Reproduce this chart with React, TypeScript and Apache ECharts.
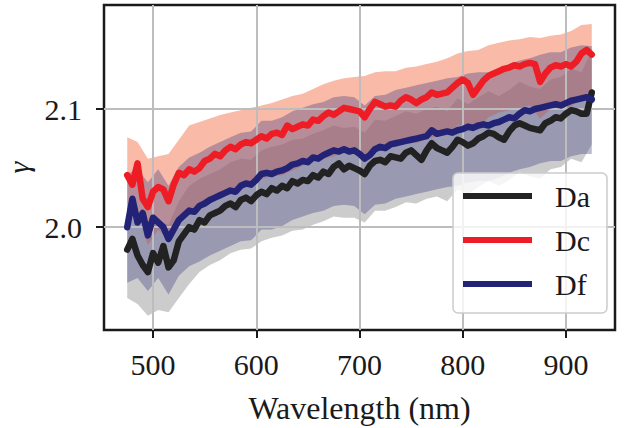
import React, { useEffect, useRef } from "react";
import * as echarts from "echarts";

const WL = [475, 480, 485, 490, 495, 500, 505, 510, 515, 520, 525, 530, 535, 540, 545, 550, 555, 560, 565, 570, 575, 580, 585, 590, 595, 600, 605, 610, 615, 620, 625, 630, 635, 640, 645, 650, 655, 660, 665, 670, 675, 680, 685, 690, 695, 700, 705, 710, 715, 720, 725, 730, 735, 740, 745, 750, 755, 760, 765, 770, 775, 780, 785, 790, 795, 800, 805, 810, 815, 820, 825, 830, 835, 840, 845, 850, 855, 860, 865, 870, 875, 880, 885, 890, 895, 900, 905, 910, 915, 920, 925];

const DA = [1.981, 1.990, 1.976, 1.968, 1.962, 1.978, 1.970, 1.984, 1.966, 1.972, 1.988, 1.994, 2.000, 1.998, 2.006, 2.004, 2.010, 2.012, 2.014, 2.018, 2.020, 2.017, 2.023, 2.025, 2.022, 2.027, 2.030, 2.028, 2.033, 2.031, 2.035, 2.033, 2.039, 2.037, 2.040, 2.039, 2.044, 2.042, 2.047, 2.045, 2.051, 2.054, 2.049, 2.052, 2.050, 2.048, 2.045, 2.052, 2.056, 2.057, 2.055, 2.060, 2.059, 2.058, 2.063, 2.065, 2.061, 2.057, 2.065, 2.071, 2.067, 2.065, 2.063, 2.068, 2.074, 2.072, 2.069, 2.071, 2.075, 2.077, 2.080, 2.079, 2.076, 2.074, 2.081, 2.086, 2.088, 2.086, 2.084, 2.083, 2.082, 2.088, 2.090, 2.093, 2.092, 2.096, 2.099, 2.098, 2.096, 2.096, 2.114];

const DC = [2.044, 2.036, 2.054, 2.024, 2.017, 2.030, 2.034, 2.032, 2.022, 2.036, 2.046, 2.044, 2.049, 2.047, 2.050, 2.056, 2.058, 2.062, 2.060, 2.065, 2.068, 2.066, 2.070, 2.072, 2.071, 2.074, 2.077, 2.075, 2.079, 2.080, 2.078, 2.086, 2.083, 2.085, 2.087, 2.086, 2.091, 2.090, 2.094, 2.097, 2.095, 2.098, 2.101, 2.100, 2.099, 2.098, 2.093, 2.100, 2.106, 2.104, 2.102, 2.103, 2.102, 2.107, 2.110, 2.108, 2.105, 2.108, 2.110, 2.114, 2.112, 2.113, 2.114, 2.118, 2.122, 2.125, 2.122, 2.112, 2.118, 2.124, 2.128, 2.130, 2.132, 2.134, 2.135, 2.137, 2.136, 2.138, 2.139, 2.138, 2.123, 2.130, 2.135, 2.137, 2.136, 2.138, 2.136, 2.140, 2.147, 2.150, 2.146];

const DF = [2.000, 2.024, 2.004, 2.012, 1.993, 2.008, 2.004, 2.000, 1.990, 1.998, 2.006, 2.010, 2.014, 2.013, 2.018, 2.020, 2.023, 2.025, 2.027, 2.029, 2.031, 2.030, 2.035, 2.037, 2.036, 2.040, 2.045, 2.046, 2.045, 2.047, 2.048, 2.050, 2.053, 2.054, 2.056, 2.055, 2.059, 2.058, 2.061, 2.063, 2.065, 2.064, 2.066, 2.064, 2.065, 2.062, 2.058, 2.061, 2.066, 2.068, 2.067, 2.070, 2.071, 2.072, 2.073, 2.074, 2.075, 2.076, 2.077, 2.082, 2.079, 2.080, 2.081, 2.080, 2.082, 2.083, 2.085, 2.084, 2.086, 2.087, 2.086, 2.088, 2.089, 2.091, 2.093, 2.092, 2.096, 2.099, 2.098, 2.100, 2.101, 2.102, 2.103, 2.104, 2.103, 2.105, 2.107, 2.108, 2.109, 2.110, 2.108];

const WL_BAND = [475, 485, 495, 505, 515, 525, 535, 545, 555, 565, 575, 585, 595, 605, 615, 625, 635, 645, 655, 665, 675, 685, 695, 705, 715, 725, 735, 745, 755, 765, 775, 785, 795, 805, 815, 825, 835, 845, 855, 865, 875, 885, 895, 905, 915, 925];

const DA_LO = [1.940, 1.935, 1.925, 1.930, 1.928, 1.940, 1.952, 1.962, 1.968, 1.972, 1.978, 1.981, 1.982, 1.988, 1.991, 1.993, 1.997, 1.998, 2.002, 2.005, 2.009, 2.008, 2.008, 2.004, 2.014, 2.014, 2.017, 2.021, 2.020, 2.024, 2.026, 2.022, 2.032, 2.028, 2.034, 2.039, 2.035, 2.040, 2.047, 2.043, 2.041, 2.049, 2.051, 2.058, 2.055, 2.070];
const DA_HI = [2.016, 2.011, 1.998, 2.005, 2.002, 2.022, 2.035, 2.041, 2.045, 2.049, 2.055, 2.058, 2.057, 2.065, 2.068, 2.070, 2.074, 2.075, 2.079, 2.082, 2.086, 2.084, 2.085, 2.080, 2.091, 2.090, 2.094, 2.098, 2.096, 2.100, 2.102, 2.098, 2.109, 2.104, 2.110, 2.115, 2.111, 2.116, 2.123, 2.119, 2.117, 2.125, 2.127, 2.134, 2.131, 2.149];

const DC_LO = [2.010, 2.012, 1.985, 1.998, 1.990, 2.010, 2.014, 2.016, 2.022, 2.026, 2.032, 2.035, 2.036, 2.041, 2.043, 2.044, 2.048, 2.052, 2.055, 2.058, 2.060, 2.064, 2.063, 2.060, 2.069, 2.067, 2.068, 2.074, 2.071, 2.075, 2.077, 2.079, 2.086, 2.087, 2.083, 2.093, 2.097, 2.099, 2.101, 2.103, 2.092, 2.100, 2.101, 2.102, 2.110, 2.112];
const DC_HI = [2.076, 2.072, 2.058, 2.060, 2.062, 2.074, 2.086, 2.089, 2.092, 2.095, 2.097, 2.099, 2.101, 2.103, 2.105, 2.108, 2.111, 2.113, 2.117, 2.121, 2.124, 2.126, 2.127, 2.128, 2.131, 2.132, 2.132, 2.135, 2.136, 2.138, 2.140, 2.143, 2.147, 2.149, 2.150, 2.154, 2.156, 2.158, 2.159, 2.161, 2.160, 2.162, 2.163, 2.166, 2.171, 2.172];

const DF_LO = [1.953, 1.957, 1.946, 1.957, 1.943, 1.959, 1.967, 1.971, 1.976, 1.980, 1.984, 1.988, 1.989, 1.998, 1.998, 2.001, 2.006, 2.009, 2.012, 2.014, 2.018, 2.019, 2.018, 2.011, 2.019, 2.020, 2.024, 2.026, 2.028, 2.030, 2.032, 2.034, 2.035, 2.038, 2.039, 2.039, 2.042, 2.046, 2.049, 2.051, 2.054, 2.056, 2.056, 2.060, 2.062, 2.062];
const DF_HI = [2.045, 2.049, 2.038, 2.049, 2.035, 2.051, 2.059, 2.063, 2.068, 2.072, 2.076, 2.080, 2.081, 2.090, 2.090, 2.093, 2.098, 2.101, 2.104, 2.106, 2.110, 2.111, 2.110, 2.103, 2.111, 2.112, 2.116, 2.118, 2.120, 2.122, 2.124, 2.126, 2.127, 2.130, 2.131, 2.131, 2.134, 2.138, 2.141, 2.143, 2.146, 2.148, 2.148, 2.152, 2.154, 2.153];

const X_TICKS = [500, 600, 700, 800, 900];
const Y_TICKS = [2.0, 2.1];

const FONT = "Liberation Serif";
const INK = "#1a1a1a";

function bandSeries(name: string, lo: number[], hi: number[], color: string, opacity: number) {
  return {
    type: "custom",
    name,
    z: 2,
    silent: true,
    clip: true,
    data: WL_BAND.map((w, i) => [w, lo[i], hi[i]]),
    encode: { x: 0, y: [1, 2] },
    renderItem: (params: any, api: any) => {
      if (params.dataIndex !== 0) return null;
      const pts: number[][] = [];
      for (let i = 0; i < WL_BAND.length; i++) pts.push(api.coord([WL_BAND[i], hi[i]]));
      for (let i = WL_BAND.length - 1; i >= 0; i--) pts.push(api.coord([WL_BAND[i], lo[i]]));
      return { type: "polygon", shape: { points: pts }, style: { fill: color, opacity } };
    },
  };
}

function lineSeries(name: string, vals: number[], color: string) {
  return {
    type: "line",
    name,
    z: 5,
    data: WL.map((w, i) => [w, vals[i]]),
    showSymbol: false,
    symbol: "none",
    lineStyle: { color, width: 6.5, join: "round", cap: "round" },
    itemStyle: { color },
    clip: true,
  };
}

export default function App() {
  const ref = useRef<HTMLDivElement>(null);
  useEffect(() => {
    document.body.style.margin = "0";
    const chart = echarts.init(ref.current!, null, { renderer: "svg" });
    chart.setOption({
      animation: false,
      backgroundColor: "#ffffff",
      grid: {
        left: 104,
        right: 13,
        top: 5,
        bottom: 98,
        containLabel: false,
        outerBoundsMode: "none",
        show: true,
        borderColor: INK,
        borderWidth: 2.5,
      },
      xAxis: {
        type: "value",
        min: 452.5,
        max: 947.5,
        splitNumber: 5,
        z: 3,
        name: "Wavelength (nm)",
        nameLocation: "middle",
        nameGap: 62,
        nameTextStyle: { fontFamily: FONT, fontSize: 32, color: INK },
        axisLine: { show: false },
        axisTick: { show: true, customValues: X_TICKS, length: 8, lineStyle: { color: INK, width: 2 } },
        axisLabel: {
          customValues: X_TICKS,
          margin: 19,
          fontFamily: FONT,
          fontSize: 30,
          color: INK,
        },
        splitLine: { show: true, lineStyle: { color: "#bdbdbd", width: 2 } },
      },
      yAxis: {
        type: "value",
        min: 1.913,
        max: 2.188,
        splitNumber: 3,
        z: 3,
        name: "γ",
        nameLocation: "middle",
        nameGap: 71,
        nameRotate: 90,
        nameTextStyle: { fontFamily: FONT, fontSize: 30, fontStyle: "italic", color: INK },
        axisLine: { show: false },
        axisTick: { show: true, customValues: Y_TICKS, length: 8, lineStyle: { color: INK, width: 2 } },
        axisLabel: {
          customValues: Y_TICKS,
          margin: 22,
          fontFamily: FONT,
          fontSize: 30,
          color: INK,
          formatter: (v: number) => v.toFixed(1),
        },
        splitLine: { show: true, lineStyle: { color: "#bdbdbd", width: 2 } },
      },
      legend: {
        data: ["Da", "Dc", "Df"],
        orient: "vertical",
        left: 453,
        top: 173,
        icon: "rect",
        itemWidth: 69,
        itemHeight: 6,
        itemGap: 14,
        padding: [8, 17, 14, 10],
        backgroundColor: "rgba(255,255,255,0.8)",
        borderColor: "#cccccc",
        borderWidth: 1.5,
        borderRadius: 5,
        z: 10,
        textStyle: { fontFamily: FONT, fontSize: 30, color: INK, lineHeight: 30, padding: [0, 0, 0, 18] },
      },
      series: [
        bandSeries("Da band", DA_LO, DA_HI, "#9a9a9a", 0.5),
        bandSeries("Dc band", DC_LO, DC_HI, "#f4845f", 0.55),
        bandSeries("Df band", DF_LO, DF_HI, "#3a3a80", 0.35),
        lineSeries("Da", DA, "#222222"),
        lineSeries("Dc", DC, "#ee1c25"),
        lineSeries("Df", DF, "#222277"),
      ],
    });
    return () => chart.dispose();
  }, []);
  return <div ref={ref} style={{ width: 628, height: 428 }} />;
}
